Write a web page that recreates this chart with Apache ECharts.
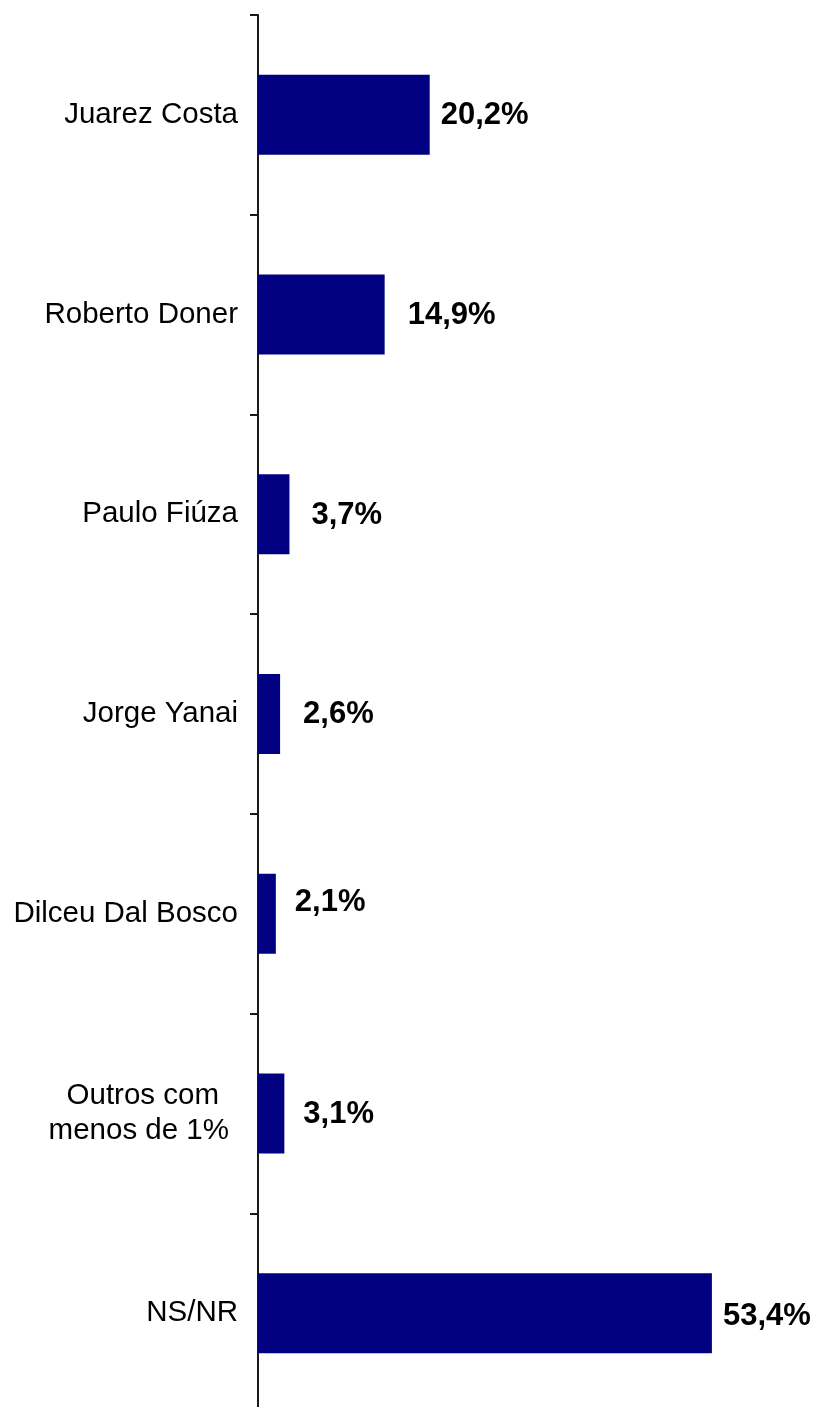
<!DOCTYPE html>
<html><head><meta charset="utf-8">
<script src="https://cdn.jsdelivr.net/npm/echarts@6/dist/echarts.min.js"></script>
<style>html,body{margin:0;padding:0;background:#fff;overflow:hidden}#c{width:817px;height:1420px}</style>
</head><body><div id="c"></div>
<script>
// ---- data ----
const categories = ['Juarez Costa', 'Roberto Doner', 'Paulo Fiúza', 'Jorge Yanai', 'Dilceu Dal Bosco', 'Outros com\nmenos de 1%', 'NS/NR'];
const values = [20.2, 14.9, 3.7, 2.6, 2.1, 3.1, 53.4];

// ---- styling ----
const FONT = '"Liberation Sans", Arial, sans-serif';
const labelGap = [11, 23, 22, 23, 19, 19, 11];
const labelDy = [1, 1, 1, 0, -11, 1, 3];

const chart = echarts.init(document.getElementById('c'), null, {renderer: 'canvas'});
chart.setOption({
  animation: false,
  backgroundColor: '#ffffff',
  grid: {left: 258, top: 15, width: 510, height: 1398, containLabel: false},
  xAxis: {
    type: 'value', min: 0, max: 60,
    axisLine: {show: false}, axisTick: {show: false},
    axisLabel: {show: false}, splitLine: {show: false}
  },
  yAxis: {
    type: 'category', inverse: true, data: categories,
    axisLine: {show: true, lineStyle: {color: '#1a1a1a', width: 2}},
    axisTick: {show: true, length: 8, lineStyle: {color: '#1a1a1a', width: 2}},
    axisLabel: {
      margin: 20, color: '#000', fontFamily: FONT, fontSize: 29.5, lineHeight: 35,
      formatter: function (v) {
        if (v.indexOf('\n') >= 0) {
          const p = v.split('\n');
          return '{l1|' + p[0] + '}\n{l2|' + p[1] + '}';
        }
        return v;
      },
      rich: {
        l1: {fontFamily: FONT, fontSize: 29.5, lineHeight: 35, color: '#000', padding: [0, 19, 0, 0]},
        l2: {fontFamily: FONT, fontSize: 29.5, lineHeight: 35, color: '#000', padding: [0, 9, 0, 0]}
      }
    },
    splitLine: {show: false}
  },
  series: [{
    type: 'bar',
    barWidth: 80,
    itemStyle: {color: '#000080'},
    data: values.map(function (v, i) {
      return {value: v, label: {distance: labelGap[i], offset: [0, labelDy[i]]}};
    }),
    label: {
      show: true, position: 'right', color: '#000',
      fontFamily: FONT, fontWeight: 'bold', fontSize: 31,
      formatter: function (p) { return p.value.toFixed(1).replace('.', ',') + '%'; }
    }
  }]
});
</script>
</body></html>
